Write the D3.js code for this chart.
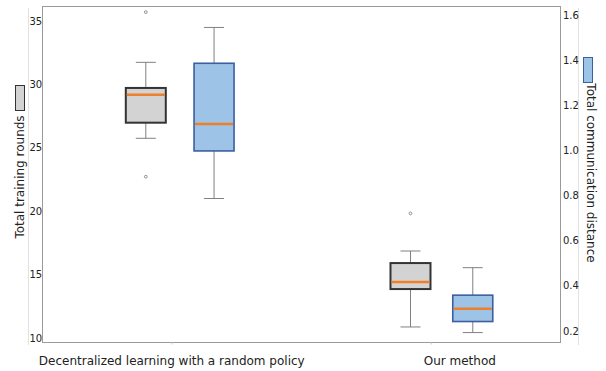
<!DOCTYPE html>
<html>
<head>
<meta charset="utf-8">
<script src="https://cdn.jsdelivr.net/npm/d3@7"></script>
<style>
  body { margin: 0; background: #fff; }
  text { font-family: 'DejaVu Sans', sans-serif; fill: #222; }
</style>
</head>
<body>
<div id="chart"></div>
<script>
// categories and where each box sits on the x axis
let categories = ['Decentralized learning with a random policy', 'Our method']
let categoryTicks = [1, 2]
let labelPos = [1, 2.11]
let roundsPos = [0.9, 1.92]
let distPos = [1.163, 2.16]

// box stats: [lowCap, q1, median, q3, highCap]
let roundsStats = [
  [25.75, 26.98, 29.19, 29.72, 31.74],
  [10.87, 13.86, 14.42, 15.91, 16.86]
]
let roundsOutliers = [[35.7, 22.72], [19.83]]

let distStats = [
  [0.788, 0.999, 1.118, 1.388, 1.547],
  [0.193, 0.242, 0.299, 0.359, 0.481]
]
let distOutliers = [[], []]

let leftTicks = [10, 15, 20, 25, 30, 35]
let rightTicks = [0.2, 0.4, 0.6, 0.8, 1.0, 1.2, 1.4, 1.6]

let width = 606
let height = 371
let margin = { top: 6, left: 42, right: 45, bottom: 28 }

let svg = d3
  .select('#chart')
  .append('svg')
  .attr('width', width)
  .attr('height', height)

let xPositionScale = d3.scaleLinear().domain([0.5, 2.5]).range([margin.left, width - margin.right])
let yLeft = d3.scaleLinear().domain([10, 35]).range([338, 21])
let yRight = d3.scaleLinear().domain([0.2, 1.6]).range([331, 15.5])

let plotBottom = height - margin.bottom - 0.5
let plotTop = margin.top + 0.5

// light outer spines
svg.append('line')
  .attr('x1', 28.5).attr('x2', 28.5)
  .attr('y1', 8).attr('y2', 345)
  .attr('stroke', '#e2e2e2')
svg.append('line')
  .attr('x1', 578.5).attr('x2', 578.5)
  .attr('y1', 8).attr('y2', 345)
  .attr('stroke', '#e2e2e2')

// frame
svg.append('rect')
  .attr('x', margin.left + 0.5)
  .attr('y', plotTop)
  .attr('width', width - margin.right - margin.left - 1)
  .attr('height', plotBottom - plotTop)
  .attr('fill', 'none')
  .attr('stroke', '#9a9a9a')

// x ticks
svg.selectAll('.x-tick')
  .data(categoryTicks)
  .enter()
  .append('line')
  .attr('x1', d => xPositionScale(d)).attr('x2', d => xPositionScale(d))
  .attr('y1', plotBottom).attr('y2', plotBottom + 2)
  .attr('stroke', '#ccc')

svg.selectAll('.x-label')
  .data(categories)
  .enter()
  .append('text')
  .attr('x', (d, i) => xPositionScale(labelPos[i]))
  .attr('y', 365)
  .attr('text-anchor', 'middle')
  .attr('font-size', 12)
  .text(d => d)

// left tick labels
svg.selectAll('.left-tick')
  .data(leftTicks)
  .enter()
  .append('text')
  .attr('x', 29.5)
  .attr('y', d => yLeft(d))
  .attr('dy', '0.35em')
  .attr('font-size', 10)
  .text(d => d)

// right tick labels
svg.selectAll('.right-tick')
  .data(rightTicks)
  .enter()
  .append('text')
  .attr('x', 563)
  .attr('y', d => yRight(d))
  .attr('dy', '0.35em')
  .attr('font-size', 10)
  .text(d => d.toFixed(1))

// axis titles with legend patches
svg.append('text')
  .attr('transform', 'translate(24,177) rotate(-90)')
  .attr('text-anchor', 'middle')
  .attr('font-size', 12)
  .text('Total training rounds')
svg.append('rect')
  .attr('x', 15.5).attr('y', 85.5)
  .attr('width', 9).attr('height', 25)
  .attr('fill', '#d3d3d3').attr('stroke', '#333')
svg.append('text')
  .attr('transform', 'translate(587,173) rotate(90)')
  .attr('text-anchor', 'middle')
  .attr('font-size', 12)
  .text('Total communication distance')
svg.append('rect')
  .attr('x', 583.5).attr('y', 57.5)
  .attr('width', 9).attr('height', 25)
  .attr('fill', '#9dc3e6').attr('stroke', '#3b5fa0')

function drawBoxes(stats, outliers, pos, yScale, fill, stroke, strokeWidth) {
  let boxW = 40
  let capW = 20
  let g = svg.append('g')
  stats.forEach((s, i) => {
    let cx = xPositionScale(pos[i])
    // whiskers
    g.append('line')
      .attr('x1', cx).attr('x2', cx)
      .attr('y1', yScale(s[0])).attr('y2', yScale(s[1]))
      .attr('stroke', '#808080')
    g.append('line')
      .attr('x1', cx).attr('x2', cx)
      .attr('y1', yScale(s[3])).attr('y2', yScale(s[4]))
      .attr('stroke', '#808080')
    // caps
    ;[s[0], s[4]].forEach(v => {
      g.append('line')
        .attr('x1', cx - capW / 2).attr('x2', cx + capW / 2)
        .attr('y1', yScale(v)).attr('y2', yScale(v))
        .attr('stroke', '#808080')
    })
    // box
    g.append('rect')
      .attr('x', cx - boxW / 2)
      .attr('y', yScale(s[3]))
      .attr('width', boxW)
      .attr('height', yScale(s[1]) - yScale(s[3]))
      .attr('fill', fill)
      .attr('stroke', stroke)
      .attr('stroke-width', strokeWidth)
    // median
    g.append('line')
      .attr('x1', cx - boxW / 2 + 1).attr('x2', cx + boxW / 2 - 1)
      .attr('y1', yScale(s[2])).attr('y2', yScale(s[2]))
      .attr('stroke', '#f07f2a')
      .attr('stroke-width', 2.5)
    // outliers
    outliers[i].forEach(v => {
      g.append('circle')
        .attr('cx', cx).attr('cy', yScale(v))
        .attr('r', 1.4)
        .attr('fill', 'none')
        .attr('stroke', '#777')
        .attr('stroke-width', 0.8)
    })
  })
}

drawBoxes(roundsStats, roundsOutliers, roundsPos, yLeft, '#d3d3d3', '#333', 2)
drawBoxes(distStats, distOutliers, distPos, yRight, '#9dc3e6', '#3b5fa0', 1.6)
</script>
</body>
</html>
